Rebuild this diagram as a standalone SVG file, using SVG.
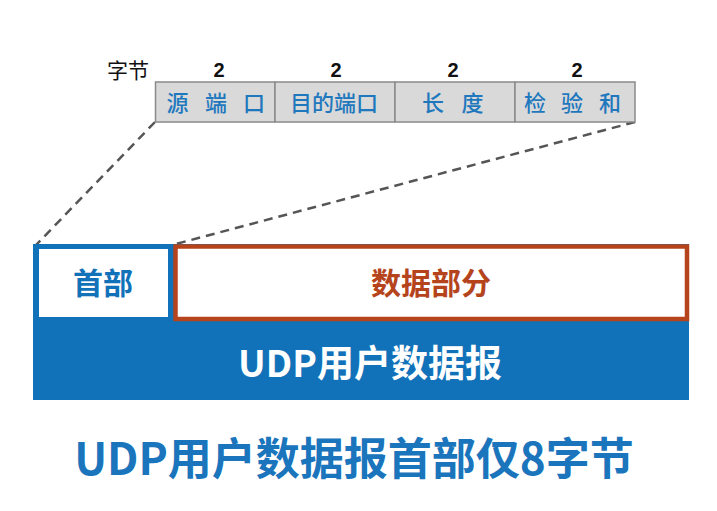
<svg xmlns="http://www.w3.org/2000/svg" width="717" height="511" viewBox="0 0 717 511">
<style>
.cjk{font-family:"Noto Sans CJK SC","Noto Sans",sans-serif}
.lbl{font-family:"Liberation Sans","Noto Sans CJK SC",sans-serif}
.field{fill:#d9d9d9;stroke:#8a8a8a;stroke-width:1.5}
.ftxt{font-size:22px;font-weight:500;fill:#1f78be;text-anchor:middle}
.num{font-size:20px;font-weight:bold;fill:#111;text-anchor:middle}
.dash{stroke:#555;stroke-width:2.5;stroke-dasharray:9 6;fill:none}
</style>
<rect width="717" height="511" fill="#fff"/>
<g id="connectors">
<line class="dash" x1="155" y1="122" x2="36" y2="245"/>
<line class="dash" x1="635" y1="122" x2="172" y2="245"/>
</g>
<g id="bytes-label">
<text class="cjk" x="128" y="78" font-size="21" text-anchor="middle" fill="#111">字节</text>
<text class="lbl num" x="219" y="77">2</text>
<text class="lbl num" x="336" y="77">2</text>
<text class="lbl num" x="453" y="77">2</text>
<text class="lbl num" x="577" y="77">2</text>
</g>
<g id="src-port">
<rect class="field" x="155.5" y="82" width="119.5" height="40"/>
<text class="cjk ftxt" y="111"><tspan x="177.5">源</tspan><tspan x="216">端</tspan><tspan x="254">口</tspan></text>
</g>
<g id="dst-port">
<rect class="field" x="275" y="82" width="120" height="40"/>
<text class="cjk ftxt" x="334" y="111">目的端口</text>
</g>
<g id="length">
<rect class="field" x="395" y="82" width="120" height="40"/>
<text class="cjk ftxt" y="111"><tspan x="433">长</tspan><tspan x="472.5">度</tspan></text>
</g>
<g id="checksum">
<rect class="field" x="515" y="82" width="120" height="40"/>
<text class="cjk ftxt" y="111"><tspan x="535">检</tspan><tspan x="572">验</tspan><tspan x="610">和</tspan></text>
</g>
<g id="datagram">
<rect x="33" y="244" width="656" height="156" fill="#1172b9"/>
<text class="cjk" x="370" y="377" font-size="37" font-weight="bold" fill="#fff" text-anchor="middle">UDP用户数据报</text>
</g>
<g id="header">
<rect x="39" y="249" width="129" height="68" fill="#fff"/>
<text class="cjk" x="103" y="294" font-size="30" font-weight="bold" fill="#1172b9" text-anchor="middle">首部</text>
</g>
<g id="data">
<rect x="175.5" y="246.5" width="511.5" height="72.5" fill="#fff" stroke="#b5441c" stroke-width="4.5"/>
<text class="cjk" x="431" y="294" font-size="30" font-weight="bold" fill="#b5441c" text-anchor="middle">数据部分</text>
</g>
<g id="title">
<text class="cjk" x="354" y="475" font-size="44" font-weight="bold" fill="#1a75bc" text-anchor="middle">UDP用户数据报首部仅8字节</text>
</g>
</svg>
